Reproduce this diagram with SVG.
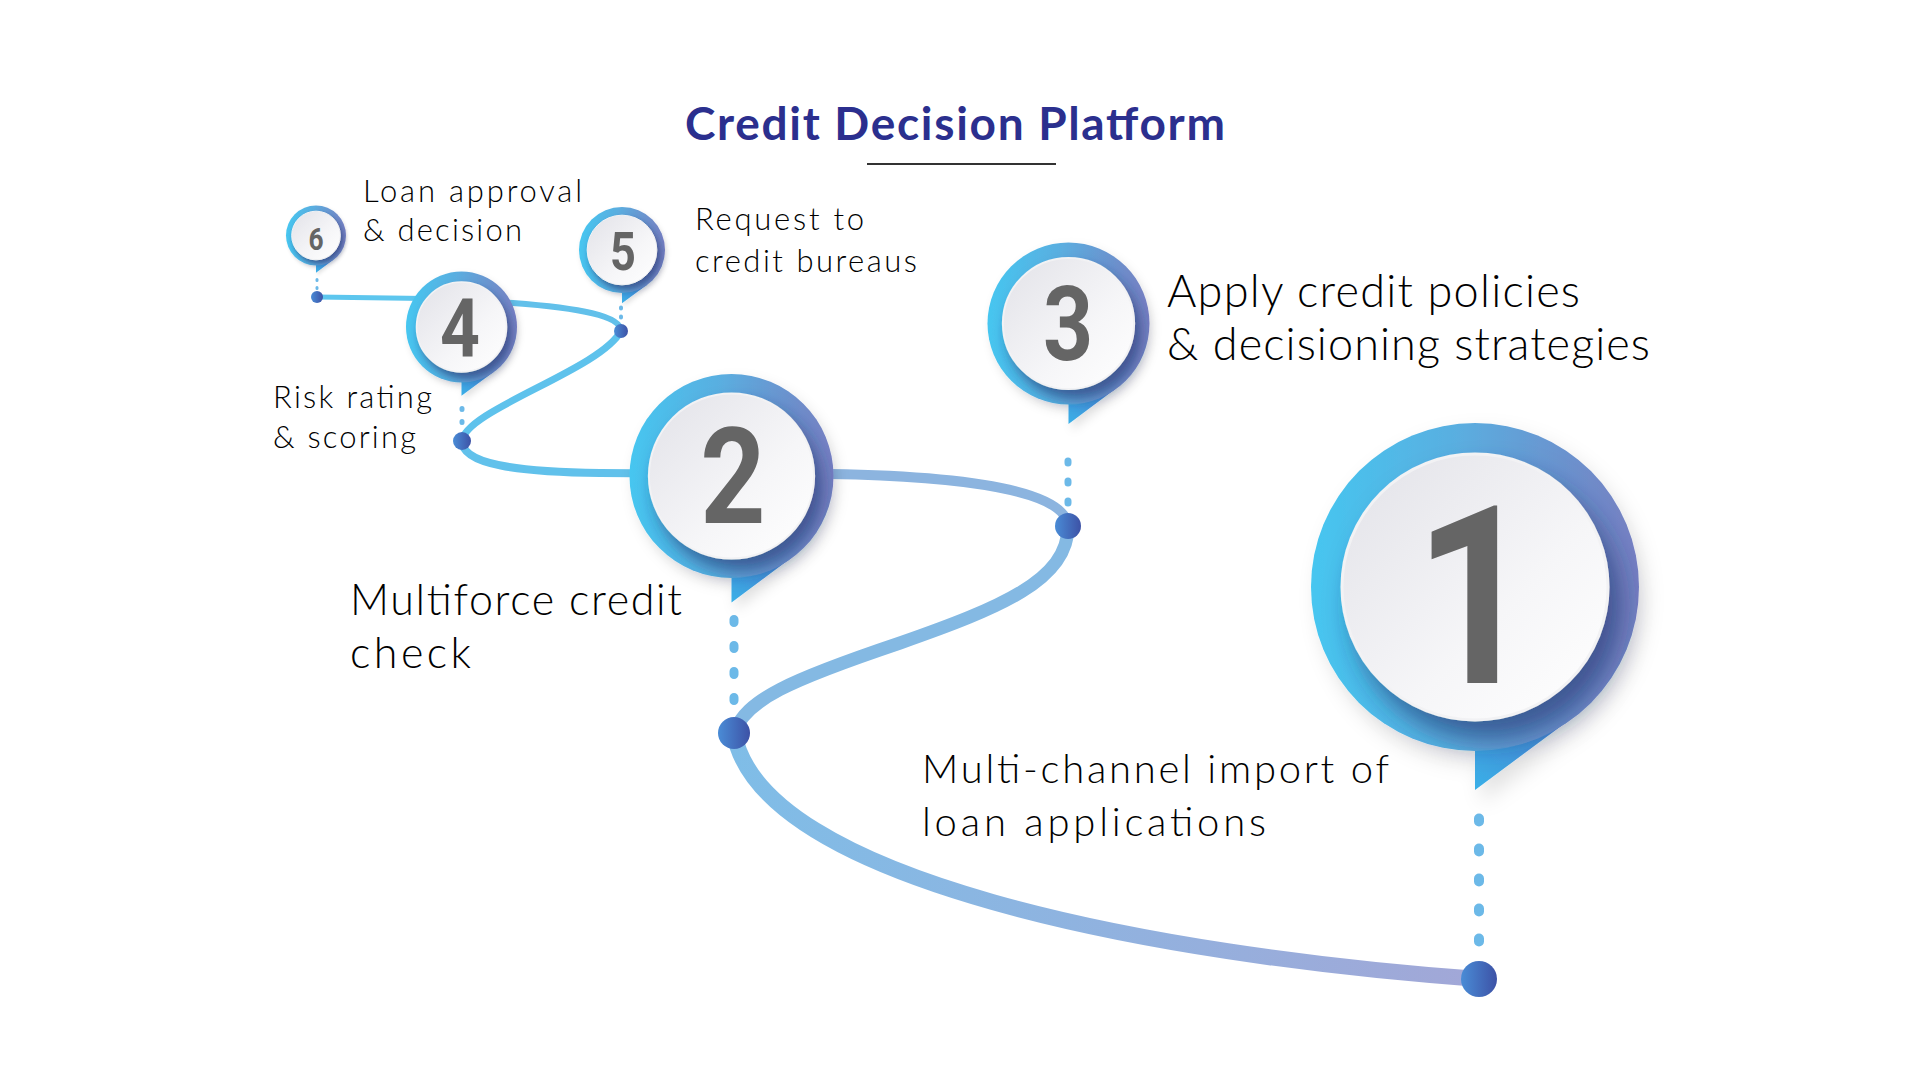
<svg xmlns="http://www.w3.org/2000/svg" width="1920" height="1080" viewBox="0 0 1920 1080">
<defs>
<style>
.ring{fill:url(#gRing)}
.tail{fill:url(#gTail)}
.inner{fill:url(#gInner);stroke:#f2f2f4;filter:url(#fShadow)}
.pin{filter:url(#fPin)}
.num{font-family:Roboto,"Liberation Sans",sans-serif;font-weight:700;fill:#656565;text-anchor:middle}
.stem{stroke:#6cb9e8;stroke-linecap:round;fill:none}
.dot{fill:url(#gDot)}
.lbl{font-family:Lato,"Open Sans","Liberation Sans",sans-serif;font-weight:300;fill:#000000}
.title{font-family:Lato,"Liberation Sans",sans-serif;font-weight:700;fill:#2b2f8e}
.seg{fill:none;stroke-linecap:round}
</style>
<linearGradient id="gRing" x1="0" y1="0" x2="1" y2="0">
<stop offset="0" stop-color="#46c6f0"/>
<stop offset="0.45" stop-color="#5aaee0"/>
<stop offset="1" stop-color="#7780c2"/>
</linearGradient>
<linearGradient id="gTail" x1="0" y1="1" x2="1" y2="0">
<stop offset="0" stop-color="#39b0e8"/>
<stop offset="1" stop-color="#4a7ccb"/>
</linearGradient>
<linearGradient id="gInner" x1="0" y1="0" x2="1" y2="1">
<stop offset="0" stop-color="#e2e2e8"/>
<stop offset="0.6" stop-color="#f6f6f8"/>
<stop offset="1" stop-color="#ffffff"/>
</linearGradient>
<linearGradient id="gDot" x1="0" y1="0" x2="1" y2="0">
<stop offset="0" stop-color="#4a8cd6"/>
<stop offset="1" stop-color="#3d52a6"/>
</linearGradient>
<linearGradient id="gSegA" gradientUnits="userSpaceOnUse" x1="734" y1="0" x2="1480" y2="0">
<stop offset="0" stop-color="#7fbde7"/>
<stop offset="1" stop-color="#a2a7d7"/>
</linearGradient>
<filter id="fShadow" x="-30%" y="-30%" width="170%" height="170%" primitiveUnits="objectBoundingBox">
<feDropShadow dx="0.045" dy="0.07" stdDeviation="0.05" flood-color="#1c2b6a" flood-opacity="0.6"/>
</filter>
<filter id="fPin" x="-30%" y="-30%" width="170%" height="170%" primitiveUnits="objectBoundingBox">
<feDropShadow dx="0.02" dy="0.03" stdDeviation="0.03" flood-color="#000000" flood-opacity="0.12"/>
</filter>
</defs>
<rect width="1920" height="1080" fill="#ffffff"/>

<g id="title">
<text class="title" x="955" y="140" font-size="46" text-anchor="middle" textLength="540">Credit Decision Platform</text>
<line x1="867" y1="164" x2="1056" y2="164" stroke="#333333" stroke-width="2"/>
</g>

<g id="connectors">
<path class="seg" d="M1479 979 C1150 955 760 880 734 733" stroke="url(#gSegA)" stroke-width="16"/>
<path class="seg" d="M734 733 C745 700 790 680 900 643 C1000 608 1068 580 1068 527" stroke="#84b9e3" stroke-width="13"/>
<path class="seg" d="M1068 527 C1068 490 960 476 830 474 L731 474" stroke="#8cb4df" stroke-width="10"/>
<path class="seg" d="M731 474 L600 473 C520 472 462 465 462 441" stroke="#61c1eb" stroke-width="8"/>
<path class="seg" d="M462 441 C465 410 600 370 621 331" stroke="#5ec2ec" stroke-width="7"/>
<path class="seg" d="M621 331 C621 316 580 308 513 303 L461 300" stroke="#62c0ea" stroke-width="6"/>
<path class="seg" d="M461 299 L317 297" stroke="#5dc6ee" stroke-width="5"/>
</g>

<g id="node1">
<line class="stem" x1="1479" y1="818.5" x2="1479" y2="941.5" stroke-width="10" stroke-dasharray="3 27"/>
<circle class="dot" cx="1479" cy="979" r="18"/>
<g class="pin">
<polygon class="tail" points="1475,726 1475,790 1572,718"/>
<circle class="ring" cx="1475" cy="587" r="164"/>
</g>
<circle class="inner" cx="1475" cy="587" r="133" stroke-width="3"/>
<text class="num" transform="translate(1475 683) scale(0.85 1)" font-size="249">1</text>
</g>

<g id="node2">
<line class="stem" x1="734" y1="619.5" x2="734" y2="700.5" stroke-width="9" stroke-dasharray="3 23"/>
<circle class="dot" cx="734" cy="733" r="16"/>
<g class="pin">
<polygon class="tail" points="731.5,563 731.5,602.5 791.7,557.6"/>
<circle class="ring" cx="731.5" cy="476" r="102"/>
</g>
<circle class="inner" cx="731.5" cy="476" r="82.6" stroke-width="2"/>
<text class="num" transform="translate(733 523) scale(0.85 1)" font-size="134">2</text>
</g>

<g id="node3">
<line class="stem" x1="1068" y1="461" x2="1068" y2="503" stroke-width="7" stroke-dasharray="2 18"/>
<circle class="dot" cx="1068" cy="526" r="13"/>
<g class="pin">
<polygon class="tail" points="1068.5,392 1068.5,424 1116.3,388.3"/>
<circle class="ring" cx="1068.5" cy="323.5" r="81"/>
</g>
<circle class="inner" cx="1068.5" cy="323.5" r="65.6" stroke-width="2"/>
<text class="num" transform="translate(1068 360) scale(0.85 1)" font-size="103">3</text>
</g>

<g id="node4">
<line class="stem" x1="462" y1="408.5" x2="462" y2="422.5" stroke-width="5" stroke-dasharray="1 12"/>
<circle class="dot" cx="462" cy="441" r="9"/>
<g class="pin">
<polygon class="tail" points="461.5,374 461.5,395.8 494.2,371.4"/>
<circle class="ring" cx="461.5" cy="327" r="55.5"/>
</g>
<circle class="inner" cx="461.5" cy="327" r="45" stroke-width="1.5"/>
<text class="num" transform="translate(460 357) scale(0.85 1)" font-size="82">4</text>
</g>

<g id="node5">
<line class="stem" x1="621" y1="307.5" x2="621" y2="317.5" stroke-width="4" stroke-dasharray="1 8"/>
<circle class="dot" cx="621" cy="331" r="7"/>
<g class="pin">
<polygon class="tail" points="622,286.5 622,303.3 647.4,284.4"/>
<circle class="ring" cx="622" cy="250" r="43"/>
</g>
<circle class="inner" cx="622" cy="250" r="34.8" stroke-width="1"/>
<text class="num" transform="translate(623 270) scale(0.85 1)" font-size="53">5</text>
</g>

<g id="node6">
<line class="stem" x1="317" y1="279.5" x2="317" y2="288.5" stroke-width="3" stroke-dasharray="1 7"/>
<circle class="dot" cx="317" cy="297" r="6"/>
<g class="pin">
<polygon class="tail" points="316,261 316,272.7 333.7,259.5"/>
<circle class="ring" cx="316" cy="235.5" r="30"/>
</g>
<circle class="inner" cx="316" cy="235.5" r="24.3" stroke-width="1"/>
<text class="num" transform="translate(316 250) scale(0.85 1)" font-size="31">6</text>
</g>

<g id="labels">
<text class="lbl" font-size="31"><tspan x="363" y="202" textLength="219">Loan approval</tspan><tspan x="363" y="241" textLength="159">&amp; decision</tspan></text>
<text class="lbl" font-size="31"><tspan x="695" y="230" textLength="169">Request to</tspan><tspan x="695" y="272" textLength="222">credit bureaus</tspan></text>
<text class="lbl" font-size="31"><tspan x="273" y="408" textLength="159">Risk rating</tspan><tspan x="273" y="448" textLength="143">&amp; scoring</tspan></text>
<text class="lbl" font-size="45"><tspan x="1167" y="307" textLength="413">Apply credit policies</tspan><tspan x="1167" y="360" textLength="483">&amp; decisioning strategies</tspan></text>
<text class="lbl" font-size="43"><tspan x="350" y="615" textLength="332">Multiforce credit</tspan><tspan x="350" y="668" textLength="121">check</tspan></text>
<text class="lbl" font-size="40"><tspan x="922" y="783" textLength="467">Multi-channel import of</tspan><tspan x="922" y="836" textLength="344">loan applications</tspan></text>
</g>
</svg>
